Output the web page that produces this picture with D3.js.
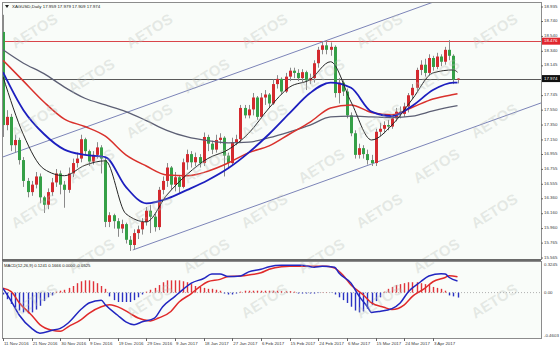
<!DOCTYPE html>
<html>
<head>
<meta charset="utf-8">
<script src="https://cdn.jsdelivr.net/npm/d3@7"></script>
<style>
  body { margin: 0; background: #ffffff; }
  svg { display: block; font-family: "Liberation Sans", Arial, sans-serif; }
</style>
</head>
<body>
<svg id="chart" width="560" height="348"></svg>
<script>
// Date labels under the chart, one every 7 bars
const tickLabels = ["11 Nov 2016", "21 Nov 2016", "30 Nov 2016", "9 Dec 2016", "19 Dec 2016",
  "29 Dec 2016", "9 Jan 2017", "18 Jan 2017", "27 Jan 2017", "6 Feb 2017", "15 Feb 2017",
  "24 Feb 2017", "6 Mar 2017", "15 Mar 2017", "24 Mar 2017", "3 Apr 2017"];

// Daily candles (bar index 0..111)
const opens = [18.60, 17.35, 17.46, 17.08, 17.15, 16.88, 16.60, 16.45, 16.55, 16.66,
  16.38, 16.28, 16.45, 16.58, 16.70, 16.55, 16.48, 16.70, 16.84, 16.90,
  17.16, 17.00, 16.86, 16.95, 17.05, 16.88, 16.05, 16.14, 16.06, 15.96,
  16.02, 15.81, 15.74, 15.90, 15.95, 16.05, 16.20, 16.12, 15.98, 16.48,
  16.60, 16.78, 16.55, 16.65, 16.52, 16.85, 16.96, 16.85, 16.92, 16.84,
  17.19, 17.10, 17.02, 17.15, 17.18, 16.94, 16.84, 17.12, 17.16, 17.58,
  17.48, 17.56, 17.72, 17.46, 17.72, 17.76, 17.64, 17.90, 17.97, 17.80,
  18.00, 18.08, 18.05, 17.98, 18.06, 17.95, 17.98, 18.18, 18.36, 18.42,
  18.36, 18.40, 17.78, 17.92, 17.80, 17.48, 17.24, 16.95, 17.04, 16.96,
  16.88, 16.84, 17.26, 17.30, 17.35, 17.33, 17.44, 17.53, 17.50, 17.60,
  17.75, 17.85, 18.09, 18.16, 18.05, 18.25, 18.13, 18.27, 18.20, 18.36,
  18.28, 17.959];
const highs = [18.83, 17.55, 17.50, 17.22, 17.18, 16.92, 16.64, 16.60, 16.72, 16.70,
  16.40, 16.50, 16.64, 16.76, 16.74, 16.60, 16.78, 16.90, 16.98, 17.22,
  17.18, 17.02, 17.00, 17.12, 17.08, 16.92, 16.18, 16.16, 16.10, 16.08,
  16.04, 15.86, 15.95, 16.00, 16.10, 16.25, 16.28, 16.16, 16.52, 16.66,
  16.84, 16.80, 16.72, 16.68, 16.90, 17.02, 17.00, 16.98, 16.96, 17.25,
  17.22, 17.14, 17.22, 17.24, 17.20, 16.98, 17.18, 17.22, 17.62, 17.62,
  17.62, 17.78, 17.74, 17.78, 17.82, 17.78, 17.96, 18.02, 17.99, 18.05,
  18.12, 18.12, 18.10, 18.10, 18.08, 18.04, 18.22, 18.40, 18.47, 18.49,
  18.46, 18.42, 17.98, 17.95, 17.84, 17.52, 17.28, 17.10, 17.08, 17.02,
  16.95, 17.30, 17.38, 17.40, 17.42, 17.48, 17.58, 17.60, 17.65, 17.78,
  17.90, 18.12, 18.22, 18.24, 18.30, 18.28, 18.32, 18.30, 18.40, 18.49,
  18.30, 17.979];
const lows = [17.19, 17.28, 17.00, 16.98, 16.82, 16.52, 16.38, 16.40, 16.50, 16.30,
  16.17, 16.22, 16.40, 16.52, 16.42, 16.24, 16.44, 16.65, 16.78, 16.85,
  16.95, 16.80, 16.82, 16.90, 16.70, 15.98, 15.98, 15.96, 15.85, 15.90,
  15.76, 15.66, 15.68, 15.82, 15.88, 16.00, 15.90, 15.92, 15.94, 16.42,
  16.52, 16.48, 16.46, 16.44, 16.50, 16.75, 16.78, 16.80, 16.78, 16.80,
  17.00, 16.96, 16.98, 17.10, 16.66, 16.76, 16.80, 17.08, 17.12, 17.44,
  17.44, 17.48, 17.42, 17.44, 17.62, 17.58, 17.62, 17.84, 17.76, 17.78,
  17.94, 17.98, 17.94, 17.92, 17.82, 17.90, 17.92, 18.12, 18.30, 18.30,
  18.28, 17.72, 17.64, 17.74, 17.44, 17.20, 16.90, 16.90, 16.90, 16.82,
  16.80, 16.80, 17.20, 17.24, 17.28, 17.30, 17.40, 17.44, 17.46, 17.52,
  17.70, 17.80, 18.02, 18.00, 18.02, 18.08, 18.10, 18.14, 18.16, 18.22,
  17.90, 17.909];
const closes = [17.35, 17.46, 17.08, 17.15, 16.88, 16.60, 16.45, 16.55, 16.66, 16.38,
  16.28, 16.45, 16.58, 16.70, 16.55, 16.48, 16.70, 16.84, 16.90, 17.16,
  17.00, 16.86, 16.95, 17.05, 16.90, 16.05, 16.14, 16.06, 15.96, 16.02,
  15.81, 15.74, 15.90, 15.95, 16.05, 16.20, 16.12, 15.98, 16.48, 16.60,
  16.78, 16.55, 16.65, 16.52, 16.85, 16.96, 16.85, 16.92, 16.84, 17.19,
  17.10, 17.02, 17.15, 17.18, 16.94, 16.84, 17.12, 17.16, 17.58, 17.48,
  17.56, 17.72, 17.46, 17.72, 17.76, 17.64, 17.90, 17.97, 17.80, 18.00,
  18.08, 18.05, 17.98, 18.06, 17.95, 17.98, 18.18, 18.36, 18.42, 18.36,
  18.40, 17.78, 17.92, 17.80, 17.48, 17.24, 16.95, 17.04, 16.96, 16.88,
  16.84, 17.26, 17.30, 17.35, 17.33, 17.44, 17.53, 17.50, 17.60, 17.75,
  17.85, 18.09, 18.16, 18.05, 18.25, 18.13, 18.27, 18.20, 18.36, 18.28,
  17.96, 17.974];

// Moving averages every 5 bars
const maIndex = [0, 5, 10, 15, 20, 25, 30, 35, 40, 45, 50, 55, 60, 65, 70, 75, 80, 85, 90, 95, 100, 105, 110, 111];
const maBlack = [18.00, 17.22, 16.76, 16.67, 16.81, 16.87, 16.16, 16.05, 16.41, 16.69, 16.90, 17.02,
  17.24, 17.58, 17.86, 17.96, 18.20, 17.66, 17.15, 17.35, 17.70, 18.05, 18.09, 18.06];
const maBlue = [18.06, 17.55, 17.23, 17.02, 16.95, 16.92, 16.52, 16.30, 16.36, 16.48, 16.61, 16.77,
  16.98, 17.23, 17.51, 17.78, 17.92, 17.85, 17.53, 17.47, 17.61, 17.82, 17.92, 17.92];
const maRed = [18.22, 17.94, 17.66, 17.43, 17.33, 17.20, 16.95, 16.80, 16.68, 16.67, 16.73, 16.84,
  16.98, 17.07, 17.23, 17.39, 17.58, 17.62, 17.52, 17.49, 17.59, 17.70, 17.76, 17.77];
const maGray = [18.36, 18.18, 18.04, 17.86, 17.71, 17.62, 17.53, 17.41, 17.28, 17.19, 17.14, 17.11,
  17.12, 17.18, 17.26, 17.35, 17.46, 17.47, 17.46, 17.45, 17.47, 17.54, 17.60, 17.61];

// Horizontal levels and channel trendlines [bar, price]
const levels = [18.476, 17.974];
const channelUpper = [[-0.73, 16.908], [106.5, 19.029]];
const channelLower = [[31.7, 15.673], [131.4, 17.647]];

// Right axis price labels
const priceTicks = [18.935, 18.740, 18.540, 18.340, 18.145, 17.745, 17.550, 17.350, 17.150,
  16.955, 16.755, 16.555, 16.360, 16.160, 15.960, 15.765, 15.565];

// MACD(12,26,9)
const macdIndex = [0, 2, 4, 7, 9, 12, 14, 16, 19, 21, 24, 25, 28, 30, 32, 34, 37, 39, 42, 44, 46, 49, 51, 53, 55,
  58, 60, 63, 65, 68, 70, 73, 76, 78, 81, 82, 85, 87, 89, 90, 92, 95, 97, 99, 102, 104, 107, 108, 109, 111];
const macdMain = [0.045, -0.09, -0.24, -0.38, -0.43, -0.40, -0.38, -0.32, -0.18, -0.11, -0.08, -0.13, -0.24,
  -0.31, -0.34, -0.31, -0.27, -0.15, -0.04, 0.035, 0.10, 0.15, 0.197, 0.197, 0.17, 0.176, 0.22, 0.247,
  0.275, 0.29, 0.29, 0.29, 0.27, 0.28, 0.27, 0.21, 0.10, -0.04, -0.15, -0.21, -0.20, -0.17, -0.11, 0.01,
  0.115, 0.176, 0.20, 0.197, 0.16, 0.124];
const signalIndex = [0, 2, 4, 7, 9, 12, 14, 16, 19, 21, 24, 26, 29, 31, 33, 36, 38, 41, 43, 46, 48, 50, 53, 55,
  58, 60, 63, 65, 68, 70, 73, 76, 79, 81, 83, 85, 88, 90, 93, 95, 98, 100, 103, 105, 108, 109, 111];
const signalValues = [0.045, 0.01, -0.11, -0.24, -0.34, -0.40, -0.41, -0.36, -0.29, -0.22, -0.15, -0.13,
  -0.17, -0.22, -0.27, -0.30, -0.27, -0.20, -0.10, -0.01, 0.06, 0.115, 0.14, 0.17, 0.176, 0.187, 0.21,
  0.247, 0.275, 0.28, 0.28, 0.28, 0.28, 0.26, 0.187, 0.08, -0.025, -0.11, -0.155, -0.18, -0.13, -0.04,
  0.045, 0.115, 0.16, 0.18, 0.167];
const histValues = [-0.02, -0.07, -0.12, -0.16, -0.19, -0.21, -0.22, -0.21, -0.18, -0.14, -0.09, -0.05, -0.03,
  0.01, 0.02, 0.03, 0.05, 0.07, 0.10, 0.12, 0.13, 0.13, 0.12, 0.10, 0.07, 0.04,
  -0.04, -0.08, -0.10, -0.10, -0.10, -0.10, -0.08, -0.05, -0.02,
  0.01, 0.03, 0.05, 0.08, 0.11, 0.13, 0.13, 0.13, 0.13, 0.12, 0.11, 0.09, 0.07, 0.06, 0.05, 0.04, 0.04, 0.03, 0.02,
  -0.01, -0.02, -0.02, -0.01,
  0.01, 0.02, 0.02, 0.02, 0.02, 0.02, 0.02, 0.02, 0.02, 0.02, 0.015, 0.015, 0.015, 0.01,
  -0.01, -0.01, -0.01, -0.01, -0.01, -0.005, 0.003, 0.003, -0.003, -0.02,
  -0.05, -0.08, -0.11, -0.15, -0.19, -0.21, -0.20, -0.17, -0.13, -0.09, -0.05,
  0.01, 0.04, 0.06, 0.08, 0.09, 0.10, 0.11, 0.11, 0.11, 0.10, 0.09, 0.08, 0.06, 0.05, 0.04, 0.02,
  -0.03, -0.04, -0.0525];
const macdRange = [-0.4603, 0.3245];

const svg = d3.select("#chart");

// Panel geometry
const left = 2, right = 541;
const priceTop = 2, priceBottom = 259;
const macdTop = 261, macdBottom = 338;
const fontSize = 4.4;

// Scales
const xScale = d3.scaleLinear().domain([0, 111]).range([3, 457.5]);
const yScale = d3.scaleLinear().domain([15.552, 19.002]).range([priceBottom, priceTop]);
const mScale = d3.scaleLinear().domain(macdRange).range([336, 262]);

// Backgrounds
svg.append("rect").attr("x", left).attr("y", priceTop).attr("width", right - left)
  .attr("height", priceBottom - priceTop).attr("fill", "#f9fcf9");
svg.append("rect").attr("x", left).attr("y", macdTop).attr("width", right - left)
  .attr("height", macdBottom - macdTop).attr("fill", "#f9fcf9");

// Clip paths for the two panels
const defs = svg.append("defs");
defs.append("clipPath").attr("id", "clipPrice").append("rect")
  .attr("x", left).attr("y", priceTop).attr("width", right - left).attr("height", priceBottom - priceTop);
defs.append("clipPath").attr("id", "clipMacd").append("rect")
  .attr("x", left).attr("y", macdTop).attr("width", right - left).attr("height", macdBottom - macdTop);

const price = svg.append("g").attr("clip-path", "url(#clipPrice)");
const macd = svg.append("g").attr("clip-path", "url(#clipMacd)");

// Horizontal levels
price.selectAll("line.level").data(levels).join("line")
  .attr("class", "level")
  .attr("x1", left).attr("x2", right)
  .attr("y1", (d) => Math.round(yScale(d)) + 0.5).attr("y2", (d) => Math.round(yScale(d)) + 0.5)
  .attr("stroke", (d, i) => (i === 0 ? "#d9454a" : "#5a5a5a"))
  .attr("stroke-width", 1);

// Channel trendlines
const trend = d3.line().x((d) => xScale(d[0])).y((d) => yScale(d[1]));
[channelUpper, channelLower].forEach(function (c) {
  price.append("path").attr("d", trend(c)).attr("fill", "none")
    .attr("stroke", "#7c84b8").attr("stroke-width", 1);
});

// Candles
const bars = d3.range(closes.length);
price.selectAll("line.wick").data(bars).join("line")
  .attr("class", "wick")
  .attr("x1", (i) => Math.round(xScale(i)) + 0.5).attr("x2", (i) => Math.round(xScale(i)) + 0.5)
  .attr("y1", (i) => yScale(highs[i])).attr("y2", (i) => yScale(lows[i]))
  .attr("stroke", "#8a8a8a").attr("stroke-width", 1);
price.selectAll("rect.body").data(bars).join("rect")
  .attr("class", "body")
  .attr("x", (i) => Math.round(xScale(i)) - 1)
  .attr("width", 3)
  .attr("y", (i) => yScale(Math.max(opens[i], closes[i])))
  .attr("height", (i) => Math.max(1, Math.abs(yScale(opens[i]) - yScale(closes[i]))))
  .attr("fill", (i) => (closes[i] >= opens[i] ? "#d42a2f" : "#35a047"));

// Moving averages
const maLine = d3.line().x((d) => xScale(d[0])).y((d) => yScale(d[1])).curve(d3.curveMonotoneX);
const maSeries = [
  { values: maGray, color: "#5c5f74", width: 1.3 },
  { values: maRed, color: "#d9312c", width: 1.5 },
  { values: maBlue, color: "#1d1fbf", width: 1.8 },
  { values: maBlack, color: "#262626", width: 1 }
];
maSeries.forEach(function (s) {
  price.append("path")
    .datum(maIndex.map((idx, k) => [idx, s.values[k]]))
    .attr("d", maLine).attr("fill", "none")
    .attr("stroke", s.color).attr("stroke-width", s.width);
});

// MACD zero line
macd.append("line").attr("x1", left).attr("x2", right)
  .attr("y1", mScale(0)).attr("y2", mScale(0))
  .attr("stroke", "#b0b0b0").attr("stroke-dasharray", "1,2");

// MACD histogram
macd.selectAll("line.hist").data(bars).join("line")
  .attr("class", "hist")
  .attr("x1", (i) => Math.round(xScale(i)) + 0.5).attr("x2", (i) => Math.round(xScale(i)) + 0.5)
  .attr("y1", mScale(0)).attr("y2", (i) => mScale(histValues[i]))
  .attr("stroke", (i) => (histValues[i] >= 0 ? "#e0333a" : "#2b33c4"))
  .attr("stroke-width", 1.4);

// MACD main and signal lines
const mLine = d3.line().x((d) => xScale(d[0])).y((d) => mScale(d[1])).curve(d3.curveMonotoneX);
macd.append("path").datum(signalIndex.map((idx, k) => [idx, signalValues[k]]))
  .attr("d", mLine).attr("fill", "none").attr("stroke", "#e02a2a").attr("stroke-width", 1.5);
macd.append("path").datum(macdIndex.map((idx, k) => [idx, macdMain[k]]))
  .attr("d", mLine).attr("fill", "none").attr("stroke", "#2226c0").attr("stroke-width", 1.5);

// Watermark, kept inside the picture
const wm = svg.append("g").attr("pointer-events", "none");
for (let r = 0; r < 7; r++) {
  for (let c = 0; c < 5; c++) {
    const wx = 35 + 115 * c + (r % 2) * 57;
    const wy = 32 + 45 * r;
    if (wx > 512) continue;
    wm.append("text")
      .attr("transform", `translate(${wx},${wy}) rotate(-32)`)
      .attr("text-anchor", "middle")
      .attr("dominant-baseline", "middle")
      .attr("font-size", 15).attr("font-weight", "bold")
      .attr("fill", "#b8bcb8").attr("fill-opacity", 0.33)
      .text("AETOS");
  }
}

// Frames
svg.append("rect").attr("x", left + 0.5).attr("y", priceTop + 0.5)
  .attr("width", right - left).attr("height", priceBottom - priceTop)
  .attr("fill", "none").attr("stroke", "#8c8c8c");
svg.append("rect").attr("x", left + 0.5).attr("y", macdTop + 0.5)
  .attr("width", right - left).attr("height", macdBottom - macdTop)
  .attr("fill", "none").attr("stroke", "#8c8c8c");
svg.append("line").attr("x1", left).attr("x2", right).attr("y1", 260).attr("y2", 260)
  .attr("stroke", "#6a6a6a").attr("stroke-width", 2);

// Right price axis
const axisText = "#3a3a3a";
svg.selectAll("text.ptick").data(priceTicks).join("text")
  .attr("class", "ptick")
  .attr("x", right + 3).attr("y", (d) => yScale(d) - 0.5)
  .attr("dominant-baseline", "middle")
  .attr("font-size", fontSize).attr("fill", axisText)
  .text((d) => d.toFixed(3));
svg.selectAll("line.ptickmark").data(priceTicks).join("line")
  .attr("class", "ptickmark")
  .attr("x1", right).attr("x2", right + 2)
  .attr("y1", (d) => yScale(d)).attr("y2", (d) => yScale(d))
  .attr("stroke", "#666");

// Level labels on the axis
levels.forEach(function (v, i) {
  const y = yScale(v);
  svg.append("rect").attr("x", right + 1).attr("y", y - 3.5).attr("width", 18).attr("height", 7)
    .attr("fill", i === 0 ? "#e0262e" : "#111111");
  svg.append("text").attr("x", right + 3).attr("y", y)
    .attr("dominant-baseline", "middle")
    .attr("font-size", fontSize).attr("fill", "#ffffff")
    .text(v.toFixed(3));
});

// MACD axis labels
const macdLabels = [[macdRange[1], "0.3245", 2.5], [0, "0.00", 0], [macdRange[0], "-0.4603", 0]];
svg.selectAll("text.mtick").data(macdLabels).join("text")
  .attr("class", "mtick")
  .attr("x", right + 3).attr("y", (d) => mScale(d[0]) + d[2])
  .attr("dominant-baseline", "middle")
  .attr("font-size", fontSize).attr("fill", axisText)
  .text((d) => d[1]);

// Date axis
svg.selectAll("text.xtick").data(tickLabels).join("text")
  .attr("class", "xtick")
  .attr("x", (d, k) => xScale(k * 7) + 1).attr("y", 343.5)
  .attr("dominant-baseline", "middle")
  .attr("font-size", fontSize).attr("fill", axisText)
  .text((d) => d);
svg.selectAll("line.xtickmark").data(tickLabels).join("line")
  .attr("class", "xtickmark")
  .attr("x1", (d, k) => Math.round(xScale(k * 7)) + 0.5).attr("x2", (d, k) => Math.round(xScale(k * 7)) + 0.5)
  .attr("y1", macdBottom).attr("y2", macdBottom + 3)
  .attr("stroke", "#666");

// Panel titles
svg.append("path").attr("d", "M5,5 L9,5 L7,8 Z").attr("fill", "#222");
svg.append("text").attr("x", 12).attr("y", 6.5).attr("dominant-baseline", "middle")
  .attr("font-size", fontSize).attr("fill", "#222")
  .text("XAGUSD,Daily  17.959 17.979 17.909 17.974");
svg.append("text").attr("x", 4).attr("y", 265.5).attr("dominant-baseline", "middle")
  .attr("font-size", 4.2).attr("fill", "#222")
  .text("MACD(12,26,9) 0.1241 0.1666 0.0000 -0.0525");
</script>
</body>
</html>
